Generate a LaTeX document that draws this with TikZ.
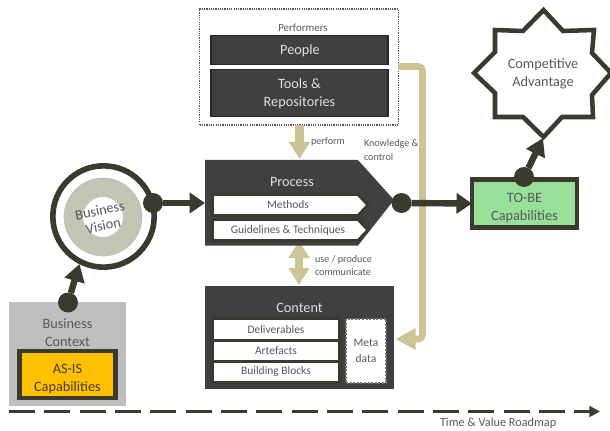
\documentclass[tikz,border=0pt]{standalone}
\usepackage{fontspec}
\setmainfont{Carlito}
\usetikzlibrary{arrows.meta}
\definecolor{ink}{HTML}{3A3A2F}
\definecolor{panel}{HTML}{404040}
\definecolor{tanc}{HTML}{CDC495}
\definecolor{ringc}{HTML}{C2C4B4}
\definecolor{graytext}{HTML}{595959}
\definecolor{lighttext}{HTML}{DEDEDE}
\definecolor{ctx}{HTML}{BFBFBF}
\definecolor{amber}{HTML}{FFC000}
\definecolor{mint}{HTML}{98E09A}
\tikzset{
  x=0.75pt,y=-0.75pt,
  base/.style={font=\fontsize{8.6}{11.5}\selectfont,text=graytext,align=center,inner sep=0pt,outer sep=0pt},
  small/.style={base,font=\fontsize{7.6}{10}\selectfont},
  big/.style={base,font=\fontsize{10.7}{13.5}\selectfont},
  bigl/.style={big,text=lighttext},
  darkbox/.style={base,draw=black!85,fill=panel,line width=1.1pt},
  whitebox/.style={base,draw=ink,fill=white,line width=2.2pt},
  dot/.style={circle,fill=ink,minimum size=15pt,inner sep=0pt,outer sep=0pt},
  thick line/.style={draw=ink,line width=4.8pt},
  bigtip/.style={-{Triangle[length=11.5pt,width=15pt]}},
  midtip/.style={-{Triangle[length=13pt,width=15pt]}},
  tanline/.style={draw=tanc,line width=6.75pt},
}
\begin{document}
\begin{tikzpicture}
\useasboundingbox (0,0) rectangle (610,431);
\fill[white] (0,0) rectangle (610,431);

% tan connectors
\node[draw=ink!85,dash pattern=on 0.9pt off 0.8pt,line width=1pt,minimum width=149pt,minimum height=87pt,inner sep=0pt,outer sep=0pt] (perf) at (299,67) {};
\coordinate (procTop) at (299.5,159);
\coordinate (procBot) at (299,241);
\coordinate (contTop) at (299,285);
\coordinate (kStart) at (398,66.5);
\coordinate (kCorner) at (422.5,66.5);
\coordinate (kCorner2) at (422.5,339);
\coordinate (kEnd) at (395.5,339);
\coordinate (perfOut) at (299.5,125);
\draw[tanline,-{Triangle[length=12.75pt,width=15pt]}] (perfOut) -- (procTop);
\draw[draw=tanc,line width=5pt,rounded corners=3pt,-{Triangle[length=15pt,width=15pt]}] (kStart) -- (kCorner) -- (kCorner2) -- (kEnd);
\draw[draw=tanc,line width=6pt,{Triangle[length=12.75pt,width=15pt]}-{Triangle[length=12.75pt,width=15pt]}] (procBot) -- (contTop);

% performers
\node[small,font=\fontsize{8.2}{10}\selectfont] (perfLabel) at (303,28) {Performers};
\node[darkbox,minimum width=133pt,minimum height=22pt] (people) at (299.5,50) {};
\node[bigl] (peopleText) at (300,50.5) {People};
\node[darkbox,minimum width=133pt,minimum height=35pt] (tools) at (299.5,93) {};
\node[bigl] (toolsText) at (299.5,93.5) {Tools \&\\Repositories};
\node[small,anchor=west] (performLabel) at (311,142) {perform};
\node[small,anchor=west,align=left] (knowLabel) at (364,150) {Knowledge \&\\control};
\node[small,anchor=west,align=left] (useLabel) at (315,265.5) {use / produce\\communicate};

% process
\fill[panel] (205,160) -- (358,160) -- (394,200) -- (358,245.5) -- (205,245.5) -- cycle;
\node[bigl] (procLabel) at (292,182) {Process};
\draw[ink,fill=white,line width=2.2pt] (212.5,194.5) -- (358,194.5) -- (368,205) -- (358,215.5) -- (212.5,215.5) -- cycle;
\node[base] (methods) at (288,204.5) {Methods};
\draw[ink,fill=white,line width=2.2pt] (212.5,219.5) -- (358,219.5) -- (368,230) -- (358,240.5) -- (212.5,240.5) -- cycle;
\node[base] (guide) at (288,230.5) {Guidelines \& Techniques};
\node[dot] (procDot) at (401.5,203) {};

% content
\node[fill=panel,minimum width=141.75pt,minimum height=77.5pt,inner sep=0pt,outer sep=0pt] (content) at (299.5,337.5) {};
\node[bigl] (contLabel) at (299.5,307.5) {Content};
\node[whitebox,minimum width=95pt,minimum height=16.5pt] (deliv) at (276,329.5) {Deliverables};
\node[whitebox,minimum width=95pt,minimum height=16pt] (artef) at (276,351) {Artefacts};
\node[whitebox,minimum width=95pt,minimum height=16pt] (build) at (276,372) {Building Blocks};
\node[base,draw=ink!70,fill=white,dash pattern=on 1.5pt off 1.2pt,line width=1.8pt,minimum width=30pt,minimum height=48pt] (meta) at (366,351) {Meta\\data};

% vision
\node[circle,draw=ink,line width=4.2pt,fill=white,minimum size=76pt,inner sep=0pt,outer sep=0pt] (vision) at (103.5,216.5) {};
\node[circle,draw=ringc,line width=14.5pt,minimum size=44.5pt,inner sep=0pt] (ring) at (103,217) {};
\node[base,rotate=12,font=\fontsize{10.7}{11.8}\selectfont] (visText) at (101.5,218) {Business\\Vision};
\node[dot] (visDot) at (153,203) {};
\coordinate (procIn) at (205,203);
\draw[thick line,bigtip] (visDot) -- (procIn);

% business context
\node[fill=ctx,minimum width=88pt,minimum height=78pt,inner sep=0pt,outer sep=0pt] (ctx) at (67.5,354) {};
\node[big] (ctxLabel) at (67.5,332.5) {Business\\Context};
\node[base,draw=ink,fill=amber,line width=3.4pt,minimum width=72pt,minimum height=35pt] (asis) at (67.5,374.5) {};
\node[big,text=black!75] (asisText) at (67.5,379.5) {AS-IS\\Capabilities};
\node[dot] (ctxDot) at (68,302.5) {};
\coordinate (visIn) at (79.5,264);
\draw[thick line,midtip] (ctxDot) -- (visIn);

% to-be
\node[base,draw=ink,fill=mint,line width=3.4pt,minimum width=79pt,minimum height=36pt] (tobe) at (524.5,203.5) {};
\node[big] (tobeText) at (524.5,208) {TO-BE\\Capabilities};
\draw[thick line,bigtip] (procDot) -- (tobe.west);
\node[dot] (tobeDot) at (524,177) {};

% star
\draw[ink,fill=white,line width=3.4pt,line join=miter] (543.5,10) -- (563,31) -- (594,30) -- (592,53) -- (611,73) -- (592,95) -- (593,117) -- (562,117) -- (543.5,137) -- (523,117) -- (495,117) -- (495,93) -- (474,73) -- (495,52) -- (495,30) -- (523,31) -- cycle;
\node[big] (star) at (543,74) {Competitive\\Advantage};
\coordinate (starIn) at (543,138);
\draw[thick line,midtip] (tobeDot) -- (starIn);

% roadmap
\coordinate (roadA) at (9,411.5);
\coordinate (roadB) at (600,411.5);
\draw[draw=ink,line width=2.1pt,dash pattern=on 19.5pt off 7pt,-{Triangle[length=8pt,width=8pt]}] (roadA) -- (roadB);
\node[small,anchor=west,font=\fontsize{9.2}{10}\selectfont] (road) at (440,423) {Time \& Value Roadmap};
\end{tikzpicture}
\end{document}
